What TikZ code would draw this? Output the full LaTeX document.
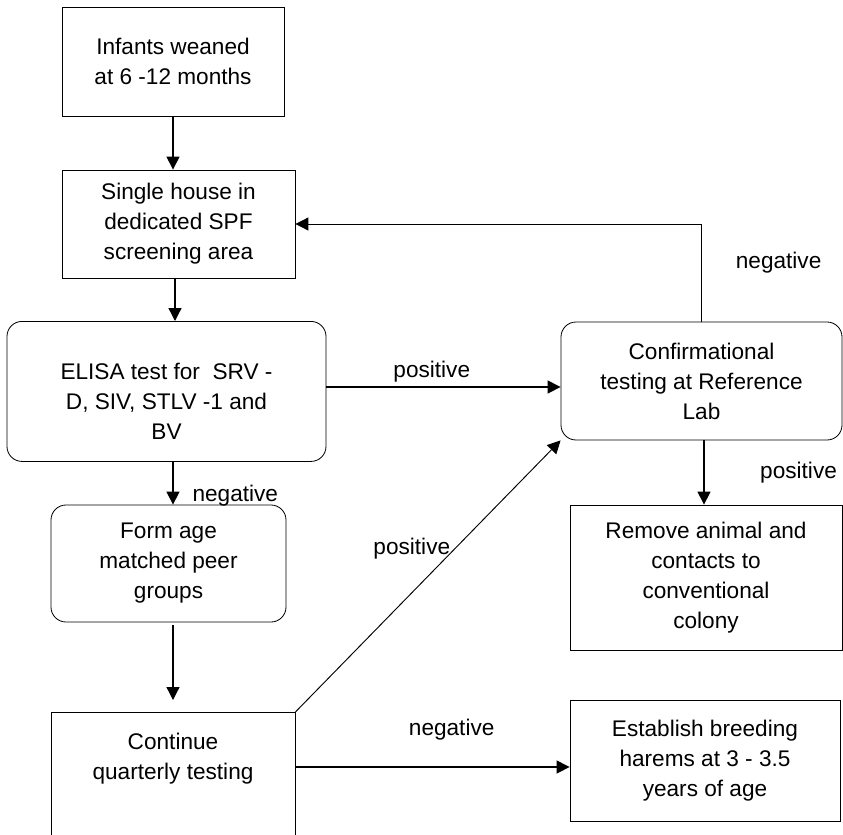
\documentclass[tikz,border=0pt]{standalone}
\usepackage{fontspec}
\setmainfont{Liberation Sans}
\usetikzlibrary{arrows.meta}
\begin{document}
\begin{tikzpicture}[x=0.03cm,y=-0.03cm,font=\fontsize{19.3}{25.6}\selectfont,
    box/.style={draw,line width=0.7pt,align=center,inner sep=0pt},
    rbox/.style={box,rounded corners=0.45cm},
    arr/.style={-{Triangle[length=0.39cm,width=0.39cm]},line width=1.1pt},
    thinarr/.style={arr,line width=0.8pt}]
  \clip (0,0) rectangle (843,834);
  \coordinate (spine) at (173,0);
  \node[box,minimum width=6.66cm,minimum height=3.27cm] (inf) at (173,61.5) {Infants weaned\\at 6 -12 months};
  \node[box,minimum width=6.99cm,minimum height=3.24cm] (house) at (178.5,224) {Single house in\\dedicated SPF\\screening area};
  \node[rbox,anchor=north,minimum width=9.57cm,text height=3.54cm,text depth=0.66cm] (elisa) at (166.5,321) {ELISA test for~ SRV -\\D, SIV, STLV -1 and\\BV};
  \node[rbox,minimum width=8.43cm,minimum height=3.54cm] (conf) at (701.5,381) {Confirmational\\testing at Reference\\Lab};
  \node[box,minimum width=8.16cm,minimum height=4.35cm] (remove) at (706,577.5) {Remove animal and\\contacts to\\conventional\\colony};
  \node[rbox,minimum width=7.05cm,minimum height=3.51cm] (form) at (168.5,563.5) {Form age\\matched peer\\groups};
  \node[box,anchor=north,minimum width=7.32cm,inner ysep=0.63cm,text depth=4cm] (cont) at (173,712) {Continue\\quarterly testing};
  \node[box,minimum width=8.1cm,minimum height=3.63cm] (est) at (705,761) {Establish breeding\\harems at 3 - 3.5\\years of age};

  \draw[arr] (inf.south -| spine) -- (house.north -| spine);
  \draw[arr] (house.south -| 175,0) -- (elisa.north -| 175,0);
  \draw[arr] (elisa.east |- 0,387) -- (conf.west |- 0,387) node[above,pos=0.45] {positive};
  \draw[thinarr] (conf.north) |- (house.east) node[pos=0.3,right,xshift=0.9cm] {negative};
  \draw[arr] (conf.south -| 704,0) -- (remove.north -| 704,0) node[pos=0.5,right,xshift=1.55cm] {positive};
  \draw[arr] (elisa.south -| spine) -- (form.north -| spine) node[pos=0.8,right,xshift=0.45cm] {negative};
  \draw[arr,shorten <=0.09cm,shorten >=0.36cm] (form.south -| spine) -- (cont.north -| spine);
  \draw[thinarr] (cont.north east) -- (conf.south west) node[pos=0.6,left] {positive};
  \draw[arr] (cont.north east |- 0,767) -- (est.west |- 0,767) node[above,pos=0.57,yshift=0.66cm] {negative};
\end{tikzpicture}
\end{document}
